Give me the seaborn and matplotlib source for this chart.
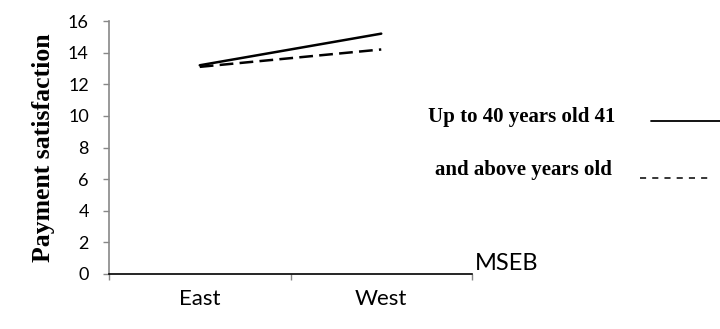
import matplotlib
matplotlib.use("Agg")
import matplotlib.pyplot as plt
import seaborn as sns
import pandas as pd
from matplotlib.lines import Line2D

regions = ["East", "West"]
series_names = ["Up to 40 years old 41", "and above years old"]
young = [13.2, 15.2]
old = [13.1, 14.2]
y_ticks = [0, 2, 4, 6, 8, 10, 12, 14, 16]
x_axis_label = "MSEB"
y_axis_label = "Payment satisfaction"

df = pd.DataFrame({
    "region": regions * 2,
    "value": young + old,
    "group": [series_names[0]] * 2 + [series_names[1]] * 2,
})

sns.set_theme(style="white")
plt.rcParams['font.family'] = ['Lato', 'DejaVu Sans']

fig = plt.figure(figsize=(7.2, 3.29), dpi=100)
ax = fig.add_axes([109/720, 1-274/329, (472-109)/720, (274-21)/329])

sns.lineplot(data=df, x="region", y="value", style="group", ax=ax,
             color="black", linewidth=1.8, legend=False,
             dashes={series_names[0]: "", series_names[1]: (5.5, 2.5)})

ax.set_xlim(-0.5, 1.5)
ax.set_ylim(0, 16)
ax.set_yticks(y_ticks)
ax.set_yticklabels([str(t) for t in y_ticks], fontsize=13, color="black")
ax.set_xticks([0, 1])
ax.set_xticklabels(regions, fontsize=16, color="black")
ax.set_xticks([-0.5, 0.5, 1.5], minor=True)
ax.tick_params(axis="x", which="major", length=0, pad=11)
ax.tick_params(axis="x", which="minor", length=4, color="#888888", width=1, direction="out", bottom=True)
ax.tick_params(axis="y", length=4.5, color="#888888", width=1, direction="out", left=True, pad=10)
ax.set_xlabel("")
ax.set_ylabel(y_axis_label, fontsize=18.5, fontweight="bold", family="Liberation Serif",
              labelpad=9, color="black")

for s in ["top", "right"]:
    ax.spines[s].set_visible(False)
ax.spines["left"].set_color("#888888")
ax.spines["left"].set_linewidth(1.2)
ax.spines["bottom"].set_color("black")
ax.spines["bottom"].set_linewidth(1.2)

fig.text(475/720, 1-263/329, x_axis_label, fontsize=17, ha="left", va="center", color="black")

# legend-like labels
fig.text(615/720, 1-117/329, series_names[0], fontsize=15, fontweight="bold",
         family="Liberation Serif", ha="right", va="center", color="black")
fig.text(612/720, 1-170/329, series_names[1], fontsize=15, fontweight="bold",
         family="Liberation Serif", ha="right", va="center", color="black")
fig.add_artist(Line2D([651/720, 720/720], [1-121/329, 1-121/329], color="black", linewidth=1.3,
                      transform=fig.transFigure))
fig.add_artist(Line2D([640/720, 713/720], [1-178/329, 1-178/329], color="black", linewidth=1.1,
                      linestyle=(0, (4, 4)), transform=fig.transFigure))

fig.savefig("out.png", dpi=100)
